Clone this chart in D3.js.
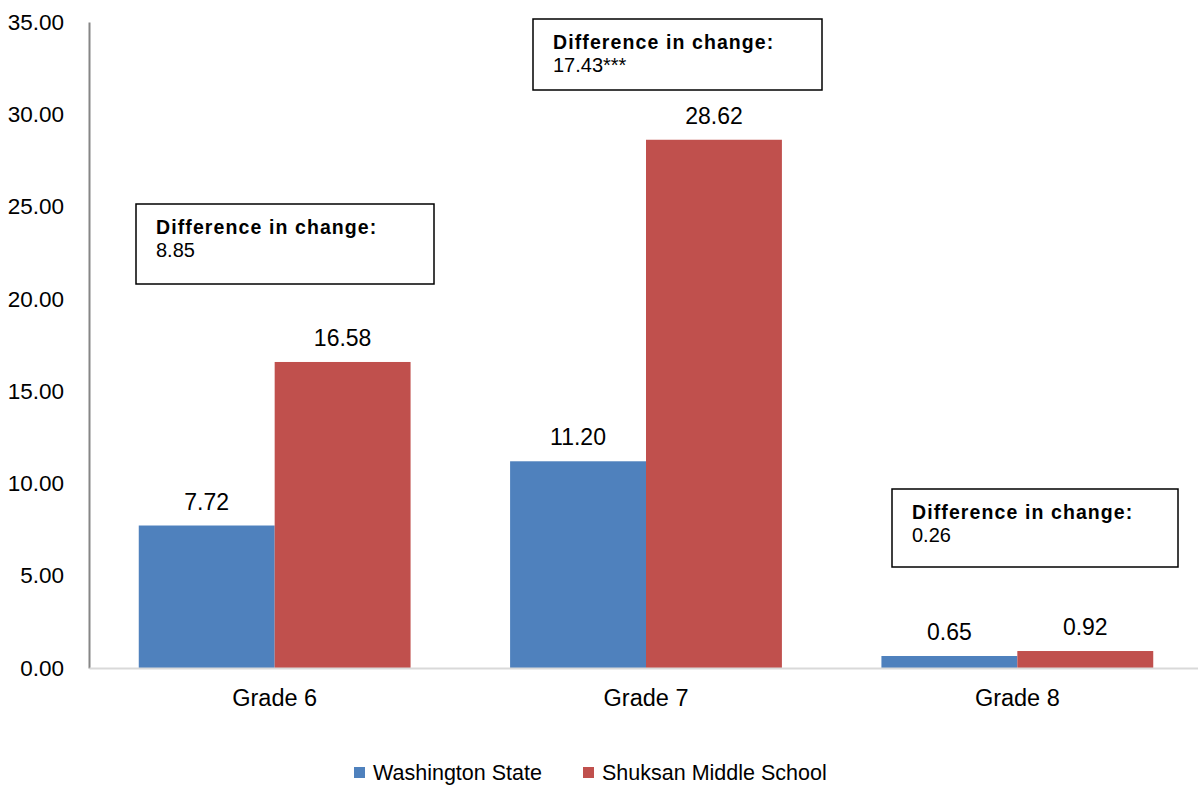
<!DOCTYPE html>
<html>
<head>
<meta charset="utf-8">
<script src="https://cdn.jsdelivr.net/npm/d3@7"></script>
<style>
  html, body { margin: 0; padding: 0; background: #fff; }
  svg { display: block; font-family: "Liberation Sans", Arial, sans-serif; }
</style>
</head>
<body>
<svg id="chart" width="1198" height="785"></svg>
<script>
const categories = ["Grade 6", "Grade 7", "Grade 8"];
const seriesNames = ["Washington State", "Shuksan Middle School"];
const washington = [7.72, 11.20, 0.65];
const shuksan = [16.58, 28.62, 0.92];
const yTicks = [0, 5, 10, 15, 20, 25, 30, 35];
const diffLabels = ["8.85", "17.43***", "0.26"];
const colors = ["#4F81BD", "#C0504D"];

const svg = d3.select("#chart");
const yTop = 22, yBottom = 668, xLeft = 89, xRight = 1203;
const FONT = "Liberation Sans, Arial, sans-serif";

const y = d3.scaleLinear().domain([0, 35]).range([yBottom, yTop]);
const x0 = d3.scaleBand().domain(categories).range([xLeft, xRight]).paddingInner(0.268).paddingOuter(0.134);
const x1 = d3.scaleBand().domain(seriesNames).range([0, x0.bandwidth()]);

// y axis
const yAxis = d3.axisLeft(y).tickValues(yTicks).tickFormat(d3.format(".2f")).tickSize(0).tickPadding(25);
const gy = svg.append("g").attr("transform", `translate(${xLeft},0)`).call(yAxis);
gy.select(".domain").attr("stroke", "#868686").attr("stroke-width", 2);
gy.selectAll("text").attr("font-size", 22.5).attr("fill", "#000").attr("font-family", FONT);

// bars
const data = categories.map((c, i) => ({ cat: c, vals: [washington[i], shuksan[i]] }));
const groups = svg.append("g").selectAll("g").data(data).join("g")
  .attr("transform", d => `translate(${x0(d.cat)},0)`);
groups.selectAll("rect").data(d => d.vals.map((v, j) => ({ v, s: seriesNames[j], j })))
  .join("rect")
  .attr("x", d => x1(d.s))
  .attr("y", d => y(d.v))
  .attr("width", x1.bandwidth())
  .attr("height", d => y(0) - y(d.v))
  .attr("fill", d => colors[d.j]);
groups.selectAll("text.val").data(d => d.vals.map((v, j) => ({ v, s: seriesNames[j], j })))
  .join("text").attr("class", "val")
  .attr("x", d => x1(d.s) + x1.bandwidth() / 2)
  .attr("y", d => y(d.v) - 16)
  .attr("text-anchor", "middle")
  .attr("font-size", 23)
  .attr("fill", "#000")
  .text(d => d3.format(".2f")(d.v));

// x axis
const xAxis = d3.axisBottom(x0).tickSize(0).tickPadding(21);
const gx = svg.append("g").attr("transform", `translate(0,${yBottom})`).call(xAxis);
gx.select(".domain").attr("stroke", "#d9d9d9").attr("stroke-width", 2);
gx.selectAll("text").attr("font-size", 23.5).attr("fill", "#000").attr("font-family", FONT);

// annotation boxes
const boxes = [
  { x: 136, y: 204, w: 298, h: 80, label: diffLabels[0] },
  { x: 533, y: 19, w: 289, h: 71, label: diffLabels[1] },
  { x: 892, y: 489, w: 286, h: 78, label: diffLabels[2] }
];
const bg = svg.append("g").selectAll("g").data(boxes).join("g");
bg.append("rect")
  .attr("x", d => d.x).attr("y", d => d.y).attr("width", d => d.w).attr("height", d => d.h)
  .attr("fill", "#fff").attr("stroke", "#000").attr("stroke-width", 1.5);
bg.append("text")
  .attr("x", d => d.x + 20).attr("y", d => d.y + 30)
  .attr("font-size", 19.5).attr("font-weight", "bold").attr("fill", "#000")
  .attr("letter-spacing", 1.1)
  .text("Difference in change:");
bg.append("text")
  .attr("x", d => d.x + 20).attr("y", d => d.y + 53)
  .attr("font-size", 20).attr("fill", "#000")
  .text(d => d.label);

// legend
const legendItems = [
  { name: seriesNames[0], x: 354, color: colors[0] },
  { name: seriesNames[1], x: 583, color: colors[1] }
];
const lg = svg.append("g").selectAll("g").data(legendItems).join("g");
lg.append("rect").attr("x", d => d.x).attr("y", 767).attr("width", 11).attr("height", 11).attr("fill", d => d.color);
lg.append("text").attr("x", d => d.x + 19).attr("y", 780).attr("font-size", 21.5).attr("fill", "#000").text(d => d.name);
</script>
</body>
</html>
